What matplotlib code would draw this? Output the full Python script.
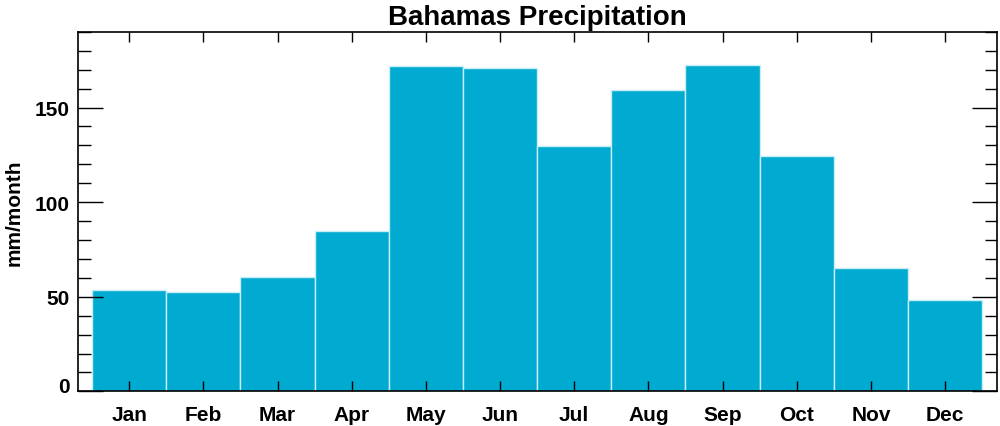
import matplotlib
matplotlib.use("Agg")
import matplotlib.pyplot as plt
import matplotlib.transforms as mtransforms
from matplotlib.ticker import MultipleLocator

plt.rcParams['font.family'] = ['Liberation Sans', 'DejaVu Sans']
plt.rcParams['font.weight'] = 'bold'

# Monthly precipitation (mm/month)
months = ['Jan', 'Feb', 'Mar', 'Apr', 'May', 'Jun',
          'Jul', 'Aug', 'Sep', 'Oct', 'Nov', 'Dec']
precip = [53.5, 52.6, 60.5, 84.6, 171.8, 171.0,
          129.5, 159.3, 172.5, 124.4, 65.2, 48.2]
yticks = [0, 50, 100, 150]

fig = plt.figure(figsize=(10, 4.27), dpi=100)
ax = fig.add_axes([0.078, 0.081, 0.919, 0.842])

x = range(len(months))
ax.bar(x, precip, width=1.0, color='#00AAD0', edgecolor='#C8EEF7', linewidth=1.0)

ax.set_xlim(-0.69, 11.7)
ax.set_ylim(0, 190)
ax.set_xticks(list(x))
ax.set_xticklabels(months)
ax.set_yticks(yticks)
ax.yaxis.set_minor_locator(MultipleLocator(10))

ax.tick_params(axis='y', which='major', direction='in', length=18, width=1.0,
               left=True, right=True, labelsize=15, pad=6)
ax.tick_params(axis='y', which='minor', direction='in', length=9, width=1.0,
               left=True, right=True)
ax.tick_params(axis='x', which='major', direction='in', length=7, width=1.0,
               top=True, bottom=True, labelsize=15, pad=10)
for s in ax.spines.values():
    s.set_linewidth(1.2)

# the zero label sits a bit above the axis line in the original
zero = ax.yaxis.get_major_ticks()[0].label1
zero.set_transform(zero.get_transform() + mtransforms.ScaledTranslation(0, 5 / 72, fig.dpi_scale_trans))

ax.set_ylabel('mm/month', fontsize=15, fontweight='bold', labelpad=8)
ax.set_title('Bahamas Precipitation', fontsize=20, fontweight='bold', pad=6)

fig.savefig('out.png', dpi=100)
